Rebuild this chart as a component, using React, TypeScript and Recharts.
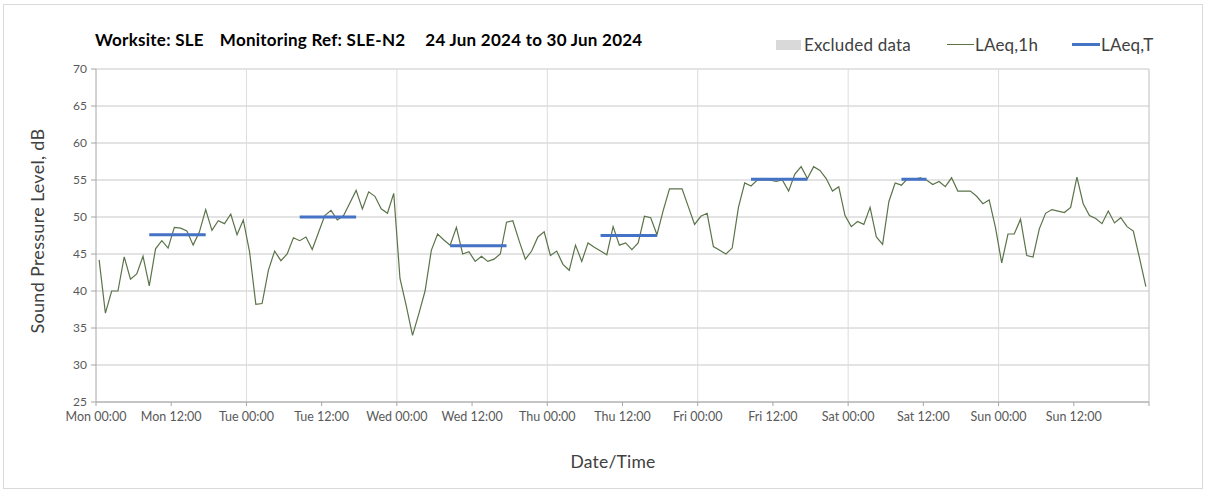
import { LineChart, Line, XAxis, YAxis, CartesianGrid, ReferenceLine } from "recharts";

// hourly LAeq,1h readings, Mon 00:00 .. Sun 23:00
const laeq1h = [
  44.2, 37.0, 40.0, 40.0, 44.6, 41.6, 42.3, 44.7, 40.7, 45.7, 46.8, 45.8,
  48.6, 48.5, 48.1, 46.2, 48.0, 51.0, 48.2, 49.5, 49.1, 50.4, 47.6, 49.6,
  45.3, 38.2, 38.3, 42.8, 45.4, 44.1, 45.0, 47.2, 46.8, 47.3, 45.6, 47.9,
  50.2, 50.9, 49.6, 50.2, 51.9, 53.6, 51.1, 53.4, 52.8, 51.1, 50.5, 53.2,
  41.7, 38.0, 34.0, 36.9, 40.0, 45.5, 47.7, 46.9, 46.2, 48.6, 45.0, 45.3,
  44.0, 44.7, 44.0, 44.3, 45.0, 49.3, 49.5, 46.8, 44.3, 45.4, 47.3, 48.0,
  44.8, 45.4, 43.6, 42.8, 46.2, 44.0, 46.5, 45.9, 45.4, 44.9, 48.7, 46.2,
  46.5, 45.6, 46.5, 50.1, 49.9, 47.6, 50.9, 53.8, 53.8, 53.8, 51.4, 49.0,
  50.1, 50.5, 46.0, 45.5, 45.0, 45.8, 51.3, 54.6, 54.2, 55.0, 55.0, 55.0,
  54.8, 55.0, 53.5, 55.8, 56.8, 55.2, 56.8, 56.3, 55.2, 53.5, 54.1, 50.2,
  48.7, 49.4, 49.0, 51.3, 47.3, 46.3, 52.1, 54.6, 54.3, 55.2, 55.1, 55.3,
  55.0, 54.4, 54.8, 54.1, 55.3, 53.5, 53.5, 53.5, 52.8, 51.8, 52.3, 48.6,
  43.8, 47.7, 47.7, 49.7, 44.8, 44.6, 48.4, 50.5, 51.0, 50.8, 50.6, 51.3,
  55.4, 51.8, 50.2, 49.8, 49.1, 50.8, 49.2, 49.9, 48.7, 48.1, 44.4, 40.6,
];

// LAeq,T periods (hour index from / to) and level
const periodStart = [8, 32, 56, 80, 104, 128];
const periodEnd = [17, 41, 65, 89, 113, 132];
const periodLevel = [47.6, 50.0, 46.1, 47.5, 55.1, 55.1];

const tickLabels = [
  "Mon 00:00", "Mon 12:00", "Tue 00:00", "Tue 12:00", "Wed 00:00", "Wed 12:00",
  "Thu 00:00", "Thu 12:00", "Fri 00:00", "Fri 12:00", "Sat 00:00", "Sat 12:00",
  "Sun 00:00", "Sun 12:00",
];
const yTicks = [25, 30, 35, 40, 45, 50, 55, 60, 65, 70];
const dayLines = [24, 48, 72, 96, 120, 144, 168];

const data = laeq1h.map((v, i) => {
  const p = periodStart.findIndex((s, k) => i >= s && i <= periodEnd[k]);
  return { t: i + 0.5, l1h: v, lt: p >= 0 ? periodLevel[p] : null };
});
const xTicks = [...tickLabels.map((_, i) => i * 12), 168];

const font = "Lato, 'Open Sans', sans-serif";

export default function App() {
  return (
    <div style={{ position: "absolute", left: 3, top: 4, width: 1198, height: 483, border: "1px solid #d9d9d9", fontFamily: font, background: "#fff" }}>
      <LineChart width={1198} height={483} data={data} margin={{ top: 64, right: 53, left: 32, bottom: 56 }}>
        <CartesianGrid vertical={false} stroke="#c8c8c8" />
        {dayLines.map((d) => (
          <ReferenceLine key={d} x={d} stroke={d === 168 ? "#bfbfbf" : "#dcdcdc"} strokeWidth={1} />
        ))}
        <XAxis
          dataKey="t"
          type="number"
          domain={[0, 168]}
          ticks={xTicks}
          interval={0}
          tickFormatter={(v: number) => tickLabels[v / 12] ?? ""}
          tick={{ fontSize: 12.5, fill: "#595959", fontFamily: font }}
          stroke="#a6a6a6"
          tickSize={4}
          tickMargin={6}
          height={30}
        />
        <YAxis
          domain={[25, 70]}
          ticks={yTicks}
          interval={0}
          tick={{ fontSize: 12, fill: "#595959", fontFamily: font }}
          stroke="#a6a6a6"
          tickSize={5}
          tickMargin={4}
          width={60}
        />
        <Line dataKey="l1h" stroke="#5b7349" strokeWidth={1.2} dot={false} isAnimationActive={false} />
        <Line dataKey="lt" stroke="#4472c4" strokeWidth={3} dot={false} connectNulls={false} isAnimationActive={false} />
      </LineChart>

      <div style={{ position: "absolute", left: 91, top: 25, fontSize: 17, letterSpacing: 0.25, fontWeight: 700, lineHeight: "20px", color: "#000", whiteSpace: "nowrap" }}>
        <span>Worksite: SLE</span>
        <span style={{ marginLeft: 16 }}>Monitoring Ref: SLE-N2</span>
        <span style={{ marginLeft: 20 }}>24 Jun 2024 to 30 Jun 2024</span>
      </div>

      <div style={{ position: "absolute", left: 0, top: 30, fontSize: 17, letterSpacing: 0.2, lineHeight: "20px", color: "#404040", whiteSpace: "nowrap" }}>
        <div style={{ position: "absolute", left: 772, top: 5, width: 25, height: 10, background: "#d9d9d9" }} />
        <span style={{ position: "absolute", left: 800 }}>Excluded data</span>
        <div style={{ position: "absolute", left: 943, top: 9, width: 27, height: 1.3, background: "#5b7349" }} />
        <span style={{ position: "absolute", left: 971 }}>LAeq,1h</span>
        <div style={{ position: "absolute", left: 1068, top: 8, width: 28, height: 3, background: "#4472c4" }} />
        <span style={{ position: "absolute", left: 1097 }}>LAeq,T</span>
      </div>

      <div style={{ position: "absolute", left: 33, top: 226, transform: "translate(-50%, -50%) rotate(-90deg)", fontSize: 18, letterSpacing: 0.3, color: "#404040", whiteSpace: "nowrap" }}>
        Sound Pressure Level, dB
      </div>
      <div style={{ position: "absolute", left: 609, top: 456, transform: "translate(-50%, -50%)", fontSize: 17.5, letterSpacing: 0.2, color: "#404040", whiteSpace: "nowrap" }}>
        Date/Time
      </div>
    </div>
  );
}
